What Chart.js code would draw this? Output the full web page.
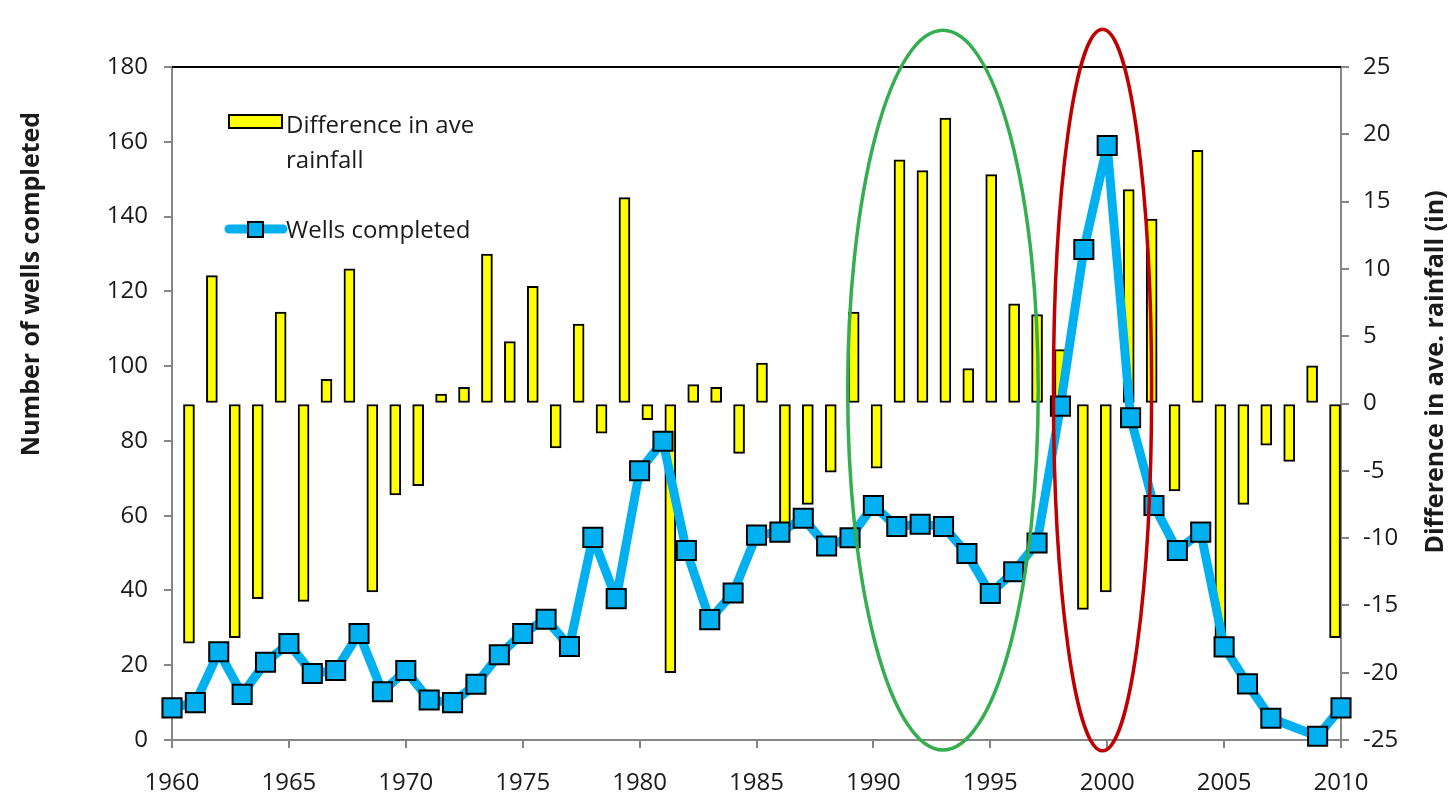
<!DOCTYPE html>
<html>
<head>
<meta charset="utf-8">
<script src="https://cdn.jsdelivr.net/npm/chart.js@4"></script>
<style>
  html, body { margin: 0; padding: 0; background: #ffffff; }
  #wrap { width: 1452px; height: 794px; position: relative; }
</style>
</head>
<body>
<div id="wrap"><canvas id="c" width="1452" height="794"></canvas></div>
<script>
// ---- DATA ----
const years = ['1960','1961','1962','1963','1964','1965','1966','1967','1968','1969',
               '1970','1971','1972','1973','1974','1975','1976','1977','1978','1979',
               '1980','1981','1982','1983','1984','1985','1986','1987','1988','1989',
               '1990','1991','1992','1993','1994','1995','1996','1997','1998','1999',
               '2000','2001','2002','2003','2004','2005','2006','2007','2008','2009','2010'];

// Difference in average rainfall (in), right axis
const rainfallDiff = [-17.8, 9.5, -17.4, -14.5, 6.8, -14.7, 1.8, 10.0, -14.0, -6.8,
                      -6.1, 0.7, 1.2, 11.1, 4.6, 8.7, -3.3, 5.9, -2.2, 15.3,
                      -1.2, -20.0, 1.4, 1.2, -3.7, 3.0, -9.5, -7.5, -5.1, 6.8,
                      -4.8, 18.1, 17.3, 21.2, 2.6, 17.0, 7.4, 6.6, 4.0, -15.3,
                      -14.0, 15.9, 13.7, -6.5, 18.8, -18.4, -7.5, -3.1, -4.3, 2.8, -17.4];

// Number of wells completed, left axis (no value shown for 2008)
const wellsCompleted = [8.6, 10.0, 23.6, 12.2, 20.8, 25.8, 17.8, 18.6, 28.5, 12.9,
                        18.6, 10.7, 10.0, 14.9, 22.8, 28.5, 32.3, 25.0, 54.2, 37.8,
                        72.0, 79.9, 50.7, 32.2, 39.3, 54.8, 55.6, 59.3, 51.9, 54.1,
                        62.7, 57.1, 57.7, 57.1, 49.9, 39.2, 45.0, 52.7, 89.3, 131.2,
                        159.0, 86.2, 62.7, 50.7, 55.6, 24.9, 15.0, 5.8, null, 1.0, 8.6];

const leftTicks = { min: 0, max: 180, step: 20 };
const rightTicks = { min: -25, max: 25, step: 5 };
const yearTicks = { min: 1960, max: 2010, step: 5 };

// Highlight ellipses in data units (years, wells)
const highlights = [
  { fromYear: 1988.9, toYear: 1997.05, topWells: 189.8, bottomWells: -2.7, color: '#35AE4F' },
  { fromYear: 1997.7, toYear: 2001.9, topWells: 190.1, bottomWells: -2.9, color: '#C00000' }
];

const seriesNames = { bars: ['Difference in ave', 'rainfall'], line: 'Wells completed' };
const axisTitles = { left: 'Number of wells completed', right: 'Difference in ave. rainfall (in)' };

// ---- STYLE ----
const FONT = "'Open Sans', 'DejaVu Sans', sans-serif";
const TXT = '#1a1a1a';
const AXIS = '#868686';
const BLUE = '#00B0F0';
const YELLOW = '#FFFF00';

const linePoints = years.map((y, i) => ({ x: Number(y), y: wellsCompleted[i] }));

const overlay = {
  id: 'overlay',
  afterDatasetsDraw(chart) {
    const { ctx, chartArea: a, scales } = chart;
    ctx.save();
    ctx.strokeStyle = '#000';
    ctx.lineWidth = 2;
    ctx.beginPath();
    ctx.moveTo(a.left, a.top);
    ctx.lineTo(a.right, a.top);
    ctx.stroke();
    highlights.forEach(h => {
      const x1 = scales.x.getPixelForValue(h.fromYear);
      const x2 = scales.x.getPixelForValue(h.toYear);
      const y1 = scales.y.getPixelForValue(h.topWells);
      const y2 = scales.y.getPixelForValue(h.bottomWells);
      ctx.beginPath();
      ctx.ellipse((x1 + x2) / 2, (y1 + y2) / 2, Math.abs(x2 - x1) / 2, Math.abs(y2 - y1) / 2, 0, 0, Math.PI * 2);
      ctx.strokeStyle = h.color;
      ctx.lineWidth = 3.5;
      ctx.stroke();
    });
    ctx.restore();
  },
  afterDraw(chart) {
    const { ctx, chartArea: a } = chart;
    ctx.save();
    // legend
    const lx = a.left + 57, ly = a.top + 48;
    ctx.fillStyle = YELLOW;
    ctx.strokeStyle = '#000';
    ctx.lineWidth = 2;
    ctx.fillRect(lx, ly, 53, 13);
    ctx.strokeRect(lx, ly, 53, 13);
    ctx.fillStyle = TXT;
    ctx.font = `24px ${FONT}`;
    ctx.textAlign = 'left';
    ctx.textBaseline = 'alphabetic';
    ctx.fillText(seriesNames.bars[0], a.left + 114, a.top + 66);
    ctx.fillText(seriesNames.bars[1], a.left + 114, a.top + 101);
    const ly2 = a.top + 162;
    ctx.strokeStyle = BLUE;
    ctx.lineWidth = 9;
    ctx.lineCap = 'round';
    ctx.beginPath();
    ctx.moveTo(a.left + 57, ly2);
    ctx.lineTo(a.left + 111, ly2);
    ctx.stroke();
    ctx.fillStyle = BLUE;
    ctx.fillRect(a.left + 76, ly2 - 7, 15, 15);
    ctx.strokeStyle = '#000';
    ctx.lineWidth = 2;
    ctx.lineCap = 'butt';
    ctx.strokeRect(a.left + 76, ly2 - 7, 15, 15);
    ctx.fillStyle = TXT;
    ctx.fillText(seriesNames.line, a.left + 114, a.top + 171);
    // axis titles
    ctx.font = `bold 25px ${FONT}`;
    ctx.textAlign = 'center';
    ctx.textBaseline = 'middle';
    ctx.save();
    ctx.translate(32, 284);
    ctx.rotate(-Math.PI / 2);
    ctx.fillText(axisTitles.left, 0, 0);
    ctx.restore();
    ctx.save();
    ctx.translate(1436, 372);
    ctx.rotate(-Math.PI / 2);
    ctx.fillText(axisTitles.right, 0, 0);
    ctx.restore();
    ctx.restore();
  }
};

const tickFont = { family: FONT, size: 24 };

new Chart(document.getElementById('c'), {
  data: {
    labels: years,
    datasets: [
      {
        type: 'line',
        label: seriesNames.line,
        data: linePoints,
        xAxisID: 'x',
        yAxisID: 'y',
        borderColor: BLUE,
        borderWidth: 9,
        borderJoinStyle: 'round',
        tension: 0,
        spanGaps: true,
        pointStyle: 'rect',
        pointRadius: 13.5,
        pointBackgroundColor: BLUE,
        pointBorderColor: '#000',
        pointBorderWidth: 2,
        order: 0,
        clip: false
      },
      {
        type: 'bar',
        label: seriesNames.bars.join(' '),
        data: rainfallDiff,
        xAxisID: 'xc',
        yAxisID: 'yR',
        backgroundColor: YELLOW,
        borderColor: '#000',
        borderWidth: 2,
        borderSkipped: false,
        barThickness: 11,
        order: 1
      }
    ]
  },
  options: {
    responsive: false,
    animation: false,
    layout: { padding: { top: 67, left: 0, right: 0, bottom: 0 } },
    plugins: { legend: { display: false }, tooltip: { enabled: false } },
    scales: {
      x: {
        type: 'linear',
        position: 'bottom',
        min: yearTicks.min,
        max: yearTicks.max,
        afterFit: s => { s.height = 54; },
        ticks: {
          stepSize: yearTicks.step,
          callback: v => String(v),
          font: tickFont,
          color: TXT,
          padding: 21,
          maxRotation: 0
        },
        grid: { drawOnChartArea: false, tickLength: 8, color: AXIS, lineWidth: 2 },
        border: { color: AXIS, width: 2 }
      },
      xc: {
        type: 'category',
        labels: years,
        display: false,
        offset: true
      },
      y: {
        type: 'linear',
        position: 'left',
        min: leftTicks.min,
        max: leftTicks.max,
        afterFit: s => { s.width = 172; },
        ticks: { stepSize: leftTicks.step, font: tickFont, color: TXT, padding: 16 },
        grid: { drawOnChartArea: false, tickLength: 8, color: AXIS, lineWidth: 2 },
        border: { color: AXIS, width: 2 }
      },
      yR: {
        type: 'linear',
        position: 'right',
        min: rightTicks.min,
        max: rightTicks.max,
        afterFit: s => { s.width = 111; },
        ticks: { stepSize: rightTicks.step, font: tickFont, color: TXT, padding: 14 },
        grid: { drawOnChartArea: false, tickLength: 8, color: AXIS, lineWidth: 2 },
        border: { color: AXIS, width: 2 }
      }
    }
  },
  plugins: [overlay]
});
</script>
</body>
</html>
